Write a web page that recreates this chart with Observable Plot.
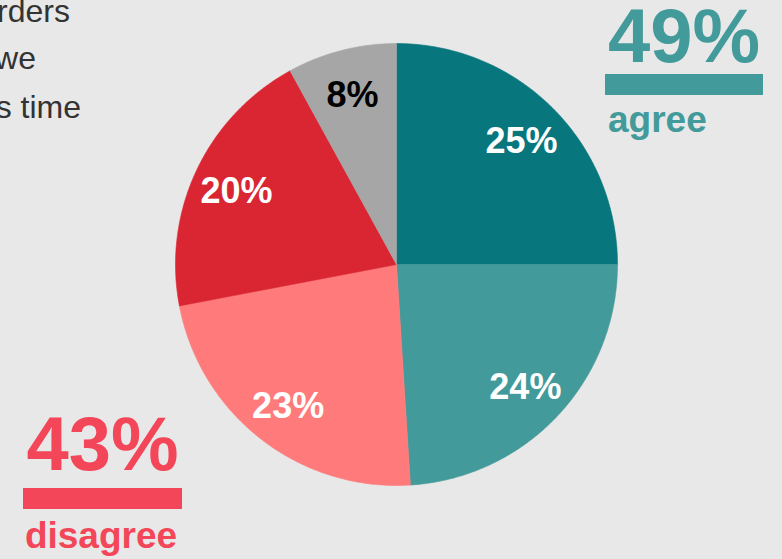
<!DOCTYPE html>
<html>
<head>
<meta charset="utf-8">
<script src="https://cdn.jsdelivr.net/npm/d3@7"></script>
<script src="https://cdn.jsdelivr.net/npm/@observablehq/plot@0.6"></script>
<style>
  html, body { margin: 0; padding: 0; background: #e8e8e8; overflow: hidden; }
  #wrap { position: relative; width: 782px; height: 559px; overflow: hidden; background: #e8e8e8;
          font-family: "Liberation Sans", Arial, Helvetica, sans-serif; }
  #wrap svg { position: absolute; left: 0; top: 0; }
  .frag { position: absolute; white-space: nowrap; font-size: 32px; line-height: 32px; color: #333333; transform: translateX(-100%); }
  .big { position: absolute; white-space: nowrap; font-weight: bold; font-size: 76px; line-height: 76px; }
  .word { position: absolute; white-space: nowrap; font-weight: bold; font-size: 37px; line-height: 37px; }
  .bar { position: absolute; height: 21px; }
</style>
</head>
<body>
<div id="wrap"></div>
<script>
// ---- data ----
const categories = ["Agree strongly", "Agree somewhat", "Disagree somewhat", "Disagree strongly", "Don't know"];
const values = [25, 24, 23, 20, 8];
const sliceColors = ["#07767d", "#439a9a", "#ff7b7b", "#da2532", "#a6a6a6"];
const labelColors = ["white", "white", "white", "white", "black"];
const agreeIdx = [0, 1];
const disagreeIdx = [2, 3];
const textFragments = ["rders", "we", "s time"];
const agreeWord = "agree";
const disagreeWord = "disagree";
const agreeColor = "#439a9a";
const disagreeColor = "#f44659";

// ---- geometry from data ----
const arcs = d3.pie().sort(null).value(d => d)(values);
const rows = [];
arcs.forEach((a, i) => {
  const cat = categories[i];
  rows.push({cat, x: 0, y: 0});
  const n = Math.max(2, Math.ceil((a.endAngle - a.startAngle) / (Math.PI / 360)));
  for (let k = 0; k <= n; k++) {
    const t = a.startAngle + (a.endAngle - a.startAngle) * k / n;
    rows.push({cat, x: Math.sin(t), y: Math.cos(t)});
  }
  rows.push({cat, x: 0, y: 0});
});
const labelR = 0.8;
const labels = arcs.map((a, i) => {
  const m = (a.startAngle + a.endAngle) / 2;
  return {cat: categories[i], text: values[i] + "%", x: labelR * Math.sin(m), y: labelR * Math.cos(m), color: labelColors[i]};
});

const chart = Plot.plot({
  width: 782,
  height: 559,
  marginLeft: 175,
  marginRight: 165,
  marginTop: 43,
  marginBottom: 74,
  x: {domain: [-1, 1], axis: null},
  y: {domain: [-1, 1], axis: null},
  color: {domain: categories, range: sliceColors},
  style: {background: "transparent", fontFamily: "'Liberation Sans', Arial, sans-serif"},
  marks: [
    Plot.line(rows, {x: "x", y: "y", z: "cat", fill: "cat", stroke: "cat", strokeWidth: 0.6, curve: "linear"}),
    Plot.text(labels.filter(d => d.color === "white"), {x: "x", y: "y", text: "text", fill: "white", fontSize: 36, fontWeight: "bold", dy: 2}),
    Plot.text(labels.filter(d => d.color === "black"), {x: "x", y: "y", text: "text", fill: "black", fontSize: 36, fontWeight: "bold", dy: 2})
  ]
});

const wrap = document.getElementById("wrap");
wrap.appendChild(chart);

// ---- annotations ----
const fragEnds = [70, 36, 81];
const fragTops = [-5, 42, 90.5];
textFragments.forEach((t, i) => {
  const d = document.createElement("div");
  d.className = "frag";
  d.textContent = t;
  d.style.left = fragEnds[i] + "px";
  d.style.top = fragTops[i] + "px";
  wrap.appendChild(d);
});

const agreeTotal = d3.sum(agreeIdx, i => values[i]);
const disagreeTotal = d3.sum(disagreeIdx, i => values[i]);

function addDiv(cls, text, css) {
  const d = document.createElement("div");
  d.className = cls;
  if (text != null) d.textContent = text;
  Object.assign(d.style, css);
  wrap.appendChild(d);
  return d;
}

// agree block (left aligned)
addDiv("big", agreeTotal + "%", {left: "608px", top: "-2px", color: agreeColor});
addDiv("bar", null, {left: "605px", top: "74px", width: "158px", background: agreeColor});
addDiv("word", agreeWord, {left: "608px", top: "100.5px", color: agreeColor});

// disagree block (centered)
addDiv("big", disagreeTotal + "%", {left: "102.5px", top: "406px", color: disagreeColor, transform: "translateX(-50%)"});
addDiv("bar", null, {left: "23px", top: "488px", width: "159px", background: disagreeColor});
addDiv("word", disagreeWord, {left: "101px", top: "517px", color: disagreeColor, transform: "translateX(-50%)"});
</script>
</body>
</html>
